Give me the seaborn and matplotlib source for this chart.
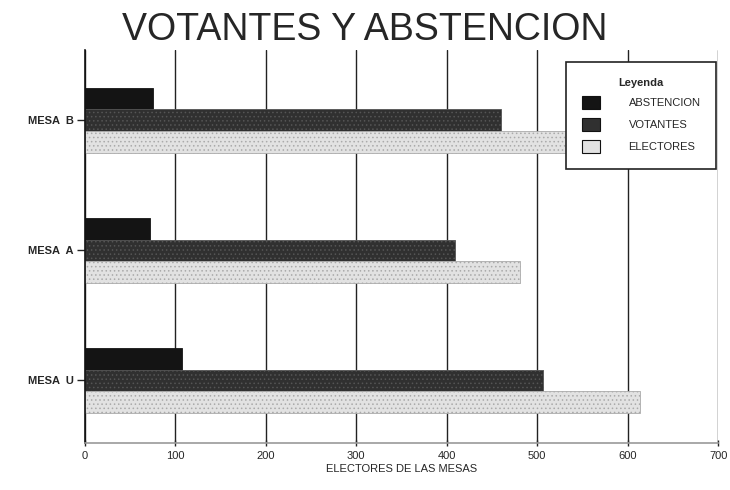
import matplotlib
matplotlib.use("Agg")
import matplotlib.pyplot as plt
import pandas as pd
import seaborn as sns

# data
mesas = ["MESA  B", "MESA  A", "MESA  U"]
abstencion = [75, 72, 107]
votantes = [460, 409, 506]
electores = [535, 481, 613]
series = ["ABSTENCION", "VOTANTES", "ELECTORES"]
x_ticks = [0, 100, 200, 300, 400, 500, 600, 700]

df = pd.DataFrame({"mesa": mesas, "ABSTENCION": abstencion,
                   "VOTANTES": votantes, "ELECTORES": electores})
df = df.melt(id_vars="mesa", var_name="serie", value_name="valor")

sns.set_style("white")
plt.rcParams["font.family"] = ["Liberation Sans", "DejaVu Sans"]
plt.rcParams["hatch.linewidth"] = 0.6

fig = plt.figure(figsize=(7.3, 4.9), dpi=100)
ax = fig.add_axes([0.116, 0.096, 0.868, 0.802])

colors = {"ABSTENCION": "#141414", "VOTANTES": "#303030", "ELECTORES": "#e2e2e2"}
sns.barplot(data=df, y="mesa", x="valor", hue="serie", order=mesas,
            hue_order=series, palette=colors, orient="h", width=0.5,
            ax=ax, edgecolor="#111111", linewidth=0.8, saturation=1)

hatches = {"ABSTENCION": "", "VOTANTES": "....", "ELECTORES": "...."}
hatch_cols = {"ABSTENCION": "#141414", "VOTANTES": "#555555", "ELECTORES": "#aaaaaa"}
for cont, name in zip(ax.containers, series):
    for bar in cont:
        bar.set_hatch(hatches[name])
        bar.set_edgecolor(hatch_cols[name])
        bar.set_linewidth(0.6)

ax.set_xlim(0, 700)
ax.set_ylim(2.48, -0.54)
ax.set_xticks(x_ticks)
ax.set_xticklabels([str(t) for t in x_ticks], fontsize=8)
ax.tick_params(axis="y", left=True, labelsize=8, length=6, width=1, color="#222222", pad=2)
for lbl in ax.get_yticklabels():
    lbl.set_fontweight("bold")
ax.tick_params(axis="x", bottom=True, length=5, width=1, color="#222222", direction="inout")
ax.set_xlabel("ELECTORES DE LAS MESAS", fontsize=8, labelpad=2)
ax.set_ylabel("")

ax.grid(axis="x", color="#222222", linewidth=1)
ax.set_axisbelow(True)
for s in ["top", "right"]:
    ax.spines[s].set_visible(False)
ax.spines["left"].set_color("#111111")
ax.spines["left"].set_linewidth(1.2)
ax.spines["bottom"].set_color("#999999")
ax.spines["bottom"].set_linewidth(1.2)

fig.suptitle("VOTANTES Y ABSTENCION", fontsize=27, y=0.975)

handles, labels = ax.get_legend_handles_labels()
for h, name in zip(handles, series):
    h.set_edgecolor("#111111")
leg = ax.legend(handles, labels, title="Leyenda", loc="upper right",
                bbox_to_anchor=(1.0, 0.975), fontsize=8, title_fontsize=8,
                frameon=True, fancybox=False, edgecolor="#222222",
                framealpha=1, borderpad=1.4, labelspacing=0.75,
                handlelength=1.6, handleheight=1.5, handletextpad=2.6,
                borderaxespad=0.2)
leg._legend_box.align = "center"
leg.get_frame().set_linewidth(1.2)
leg.get_title().set_fontweight("bold")

fig.savefig("out.png", dpi=100)
